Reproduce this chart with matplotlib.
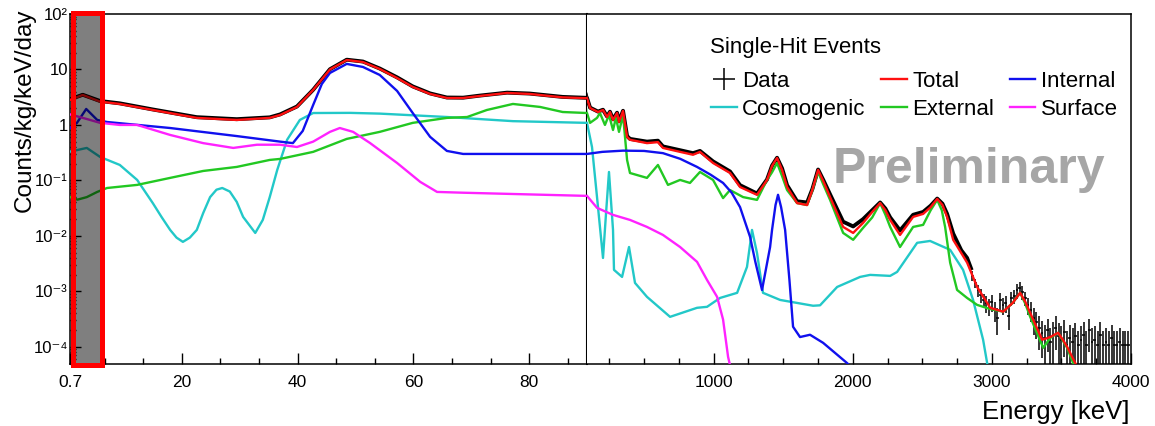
import numpy as np
import matplotlib
matplotlib.use('Agg')
import matplotlib.pyplot as plt
from matplotlib.patches import Rectangle
from matplotlib.ticker import FixedLocator, FixedFormatter, MultipleLocator, LogLocator, NullFormatter
from matplotlib.transforms import blended_transform_factory

plt.rcParams['font.family'] = ['Liberation Sans', 'DejaVu Sans']

# (energy keV, counts/kg/keV/day)
total = [(0.7, 2.82), (2.9, 3.47), (5.9, 2.63), (9.3, 2.39), (15.0, 1.86), (22.6, 1.34), (29.5, 1.23),
         (35.2, 1.34), (37.0, 1.51), (39.9, 2.11), (42.7, 4.28), (45.6, 10.0), (48.5, 14.8), (51.3, 13.6),
         (54.2, 10.2), (57.2, 7.0), (59.9, 4.84), (62.9, 3.62), (65.8, 3.06), (68.6, 3.06), (71.5, 3.33),
         (76.2, 3.77), (80.1, 3.62), (85.8, 3.14), (90, 3.03), (112, 2.02), (169, 1.71), (205, 1.86),
         (234, 1.39), (255, 1.71), (277, 1.23), (306, 1.64), (320, 1.13), (349, 1.79), (378, 0.61),
         (399, 0.54), (521, 0.47), (600, 0.49), (636, 0.385), (759, 0.327), (852, 0.29), (902, 0.327),
         (996, 0.206), (1118, 0.136), (1190, 0.076), (1312, 0.055), (1384, 0.102), (1420, 0.182),
         (1456, 0.254), (1492, 0.155), (1528, 0.076), (1600, 0.039), (1672, 0.036), (1710, 0.068),
         (1751, 0.155), (1790, 0.095), (1837, 0.050), (1931, 0.0145), (2003, 0.0113), (2074, 0.0171),
         (2140, 0.027), (2197, 0.039), (2235, 0.029), (2269, 0.0194), (2340, 0.0104), (2434, 0.022),
         (2506, 0.0249), (2560, 0.033), (2607, 0.0465), (2645, 0.036), (2678, 0.022), (2722, 0.0085),
         (2822, 0.0033), (2894, 0.0012), (2988, 5.05e-4), (3081, 4.3e-4), (3150, 6.2e-4), (3203, 9.4e-4),
         (3240, 6.5e-4), (3275, 4.1e-4), (3361, 1.34e-4), (3420, 1.5e-4), (3476, 1.79e-4), (3510, 1.34e-4),
         (3541, 1.0e-4), (3599, 5.1e-5), (3640, 3.0e-5)]

internal = [(0.7, 0.88), (1.9, 1.09), (3.5, 1.94), (5.4, 1.23), (7.1, 1.13), (18.0, 0.88), (29.5, 0.63),
            (37.0, 0.50), (39.2, 0.47), (40.9, 0.78), (42.7, 2.29), (44.2, 5.48), (45.6, 8.65), (48.5, 12.6),
            (51.3, 11.1), (54.2, 7.96), (57.2, 4.1), (59.9, 1.64), (62.9, 0.61), (65.8, 0.34), (68.6, 0.30),
            (90, 0.30), (200, 0.327), (349, 0.344), (500, 0.34), (636, 0.31), (760, 0.245), (881, 0.175),
            (980, 0.126), (1068, 0.090), (1130, 0.060), (1190, 0.033), (1262, 0.0096), (1300, 0.0034),
            (1348, 0.00106), (1406, 0.0063), (1420, 0.0128), (1445, 0.036), (1463, 0.055), (1485, 0.033),
            (1514, 0.0128), (1545, 0.0016), (1571, 2.3e-4), (1621, 1.5e-4), (1693, 1.65e-4), (1787, 1.18e-4),
            (1959, 5.1e-5), (2000, 4.0e-5)]

surface = [(0.7, 1.55), (3.6, 1.28), (5.9, 1.09), (9.3, 1.0), (12.3, 1.0), (18.0, 0.66), (23.7, 0.47),
           (28.9, 0.385), (33.0, 0.44), (37.0, 0.44), (39.9, 0.40), (42.7, 0.50), (45.6, 0.75), (47.3, 0.88),
           (49.6, 0.75), (52.5, 0.474), (57.2, 0.206), (61.2, 0.094), (64.1, 0.062), (68.6, 0.060),
           (90, 0.0526), (162, 0.032), (277, 0.0239), (399, 0.0194), (521, 0.0145), (636, 0.0104),
           (759, 0.0063), (881, 0.0034), (953, 0.0016), (1025, 7.96e-4), (1068, 3.1e-4), (1104, 6.6e-5),
           (1125, 3.9e-5)]

cosmogenic = [(0.7, 0.33), (3.6, 0.385), (5.9, 0.265), (9.3, 0.19), (12.3, 0.102), (15.0, 0.039),
              (16.5, 0.022), (18.0, 0.0128), (19.1, 0.0093), (20.2, 0.0078), (21.4, 0.0093), (22.6, 0.0128),
              (23.7, 0.0257), (24.9, 0.050), (26.0, 0.068), (27.0, 0.073), (28.3, 0.063), (29.5, 0.041),
              (30.6, 0.022), (32.7, 0.0113), (34.0, 0.0194), (35.2, 0.050), (36.5, 0.155), (38.2, 0.54),
              (40.4, 1.23), (42.7, 1.64), (49.1, 1.65), (54.2, 1.60), (65.8, 1.39), (77.2, 1.17), (90, 1.09),
              (126, 0.40), (162, 0.050), (205, 0.0040), (227, 0.026), (248, 0.142), (277, 0.0128),
              (284, 0.00244), (342, 0.00182), (392, 0.0063), (435, 0.00142), (521, 7.96e-4), (687, 3.47e-4),
              (881, 5.05e-4), (953, 5.26e-4), (1046, 7.6e-4), (1169, 9.4e-4), (1240, 0.00276), (1276, 0.0128),
              (1312, 0.0049), (1355, 9.4e-4), (1478, 7.0e-4), (1715, 5.5e-4), (1765, 5.6e-4), (1888, 0.0012),
              (2053, 0.00182), (2125, 0.00198), (2269, 0.0019), (2319, 0.00224), (2463, 0.0075),
              (2556, 0.0081), (2700, 0.0056), (2793, 0.00244), (2865, 7.0e-4), (2937, 1.34e-4),
              (2966, 5.1e-5), (2985, 3.0e-5)]

external = [(0.7, 0.050), (2.0, 0.045), (3.6, 0.050), (5.4, 0.062), (7.1, 0.073), (12.3, 0.083),
            (18.0, 0.111), (23.7, 0.148), (29.5, 0.175), (35.2, 0.234), (37.0, 0.244), (42.7, 0.327),
            (48.5, 0.56), (54.2, 0.75), (59.9, 1.09), (65.8, 1.34), (69.3, 1.39), (72.7, 1.86), (77.2, 2.39),
            (81.9, 2.11), (85.8, 1.71), (90, 1.64), (112, 1.09), (162, 1.34), (183, 1.64), (219, 1.0),
            (248, 1.51), (277, 0.81), (298, 1.34), (320, 0.75), (349, 1.51), (378, 0.234), (399, 0.136),
            (521, 0.111), (600, 0.19), (672, 0.083), (759, 0.102), (830, 0.090), (902, 0.142), (996, 0.102),
            (1068, 0.048), (1118, 0.067), (1212, 0.050), (1312, 0.0446), (1384, 0.102), (1420, 0.14),
            (1456, 0.206), (1492, 0.12), (1528, 0.067), (1600, 0.039), (1672, 0.036), (1710, 0.067),
            (1751, 0.142), (1790, 0.083), (1837, 0.0446), (1931, 0.0113), (2003, 0.0085), (2074, 0.0139),
            (2140, 0.0215), (2197, 0.039), (2235, 0.024), (2269, 0.0145), (2340, 0.0063), (2434, 0.0145),
            (2506, 0.0158), (2560, 0.029), (2607, 0.0446), (2640, 0.029), (2664, 0.0145), (2700, 0.0033),
            (2750, 0.00106), (2822, 7.6e-4), (2894, 5.7e-4), (2988, 4.8e-4), (3081, 4.3e-4), (3150, 6.2e-4),
            (3203, 9.4e-4), (3240, 6.0e-4), (3275, 3.5e-4), (3369, 9.6e-5), (3420, 1.45e-4), (3476, 1.79e-4),
            (3541, 9.6e-5), (3584, 5.1e-5), (3620, 3.5e-5)]

# measured spectrum: dense part (drawn as a band) and sparse high-energy bins with errors
data_band = [(0.7, 2.9), (2.9, 3.5), (5.9, 2.7), (9.3, 2.45), (15.0, 1.9), (22.6, 1.38), (29.5, 1.27),
             (35.2, 1.37), (37.0, 1.55), (39.9, 2.15), (42.7, 4.3), (45.6, 10.1), (48.5, 15.0), (51.3, 13.9),
             (54.2, 10.4), (57.2, 7.2), (59.9, 4.95), (62.9, 3.7), (65.8, 3.12), (68.6, 3.1), (71.5, 3.38),
             (76.2, 3.82), (80.1, 3.68), (85.8, 3.2), (90, 3.08), (112, 2.05), (169, 1.74), (205, 1.88),
             (234, 1.42), (255, 1.73), (277, 1.26), (306, 1.66), (320, 1.16), (349, 1.8), (378, 0.63),
             (399, 0.56), (521, 0.50), (600, 0.52), (636, 0.41), (759, 0.35), (852, 0.31), (902, 0.34),
             (996, 0.22), (1118, 0.145), (1190, 0.082), (1312, 0.058), (1384, 0.104), (1420, 0.185),
             (1456, 0.256), (1492, 0.165), (1528, 0.082), (1600, 0.042), (1672, 0.040), (1710, 0.070),
             (1751, 0.157), (1790, 0.10), (1837, 0.056), (1931, 0.018), (2003, 0.0148), (2074, 0.020),
             (2140, 0.029), (2197, 0.04), (2235, 0.031), (2269, 0.0215), (2340, 0.0125), (2434, 0.024),
             (2506, 0.027), (2560, 0.035), (2607, 0.047), (2645, 0.038), (2678, 0.025), (2722, 0.011),
             (2780, 0.0055), (2822, 0.0040), (2850, 0.0026)]

data_hi_e = [2860, 2880, 2900, 2920, 2940, 2960, 2980, 3000, 3020, 3040, 3060, 3080, 3100, 3120, 3140,
             3160, 3180, 3200, 3220, 3240, 3260, 3280, 3300, 3320, 3340, 3360, 3380, 3400, 3420, 3440,
             3460, 3480, 3500, 3520, 3540, 3560, 3580, 3600, 3620, 3640, 3660, 3680, 3700, 3720, 3740,
             3760, 3780, 3800, 3820, 3840, 3860, 3880, 3900, 3920, 3940, 3960, 3980]
data_hi_y = [1.90e-3, 1.42e-3, 1.06e-3, 8.65e-4, 7.03e-4, 6.21e-4, 5.48e-4, 6.47e-4, 4.65e-4, 3.33e-4,
             7.03e-4, 5.71e-4, 6.21e-4, 3.62e-4, 7.64e-4, 8.3e-4, 1.06e-3, 1.16e-3, 9.8e-4, 7.64e-4,
             5.71e-4, 4.65e-4, 3.33e-4, 2.82e-4, 2.2e-4, 1.79e-4, 1.45e-4, 2.02e-4, 1.23e-4, 1.64e-4,
             2.2e-4, 1.58e-4, 1.34e-4, 1.86e-4, 1.09e-4, 1.45e-4, 1.23e-4, 1.58e-4, 1.09e-4, 1.34e-4,
             1.64e-4, 1.09e-4, 2.02e-4, 1.23e-4, 1.34e-4, 1.09e-4, 1.64e-4, 1.09e-4, 1.23e-4, 1.09e-4,
             1.45e-4, 1.09e-4, 1.09e-4, 1.23e-4, 1.09e-4, 1.09e-4, 1.09e-4]
data_hi_rel = [0.2, 0.2, 0.25, 0.3, 0.3, 0.35, 0.35, 0.35, 0.4, 0.5,
               0.35, 0.35, 0.35, 0.45, 0.3, 0.3, 0.3, 0.25, 0.3, 0.3,
               0.35, 0.4, 0.5, 0.5, 0.6, 0.65, 0.7, 0.6, 0.8, 0.7,
               0.6, 0.7, 0.75, 0.65, 0.8, 0.7, 0.8, 0.7, 0.8, 0.75,
               0.7, 0.8, 0.6, 0.8, 0.75, 0.8, 0.7, 0.8, 0.8, 0.8,
               0.7, 0.8, 0.8, 0.8, 0.8, 0.8, 0.8]

y_ticks = [1e-4, 1e-3, 1e-2, 1e-1, 1, 10, 100]
y_tick_labels = ['10\u207b\u2074', '10\u207b\u00b3', '10\u207b\u00b2', '10\u207b\u00b9', '1', '10', '10\u00b2']

series = [
    ('Cosmogenic', cosmogenic, '#22c8c8'),
    ('External', external, '#22c822'),
    ('Internal', internal, '#1010ee'),
    ('Surface', surface, '#ff22ff'),
    ('Total', total, '#ff1010'),
]

fig = plt.figure(figsize=(11.55, 4.26), dpi=100)
ax_l = fig.add_axes([70 / 1155, 62 / 426, 517 / 1155, 350 / 426])
ax_r = fig.add_axes([587 / 1155, 62 / 426, 544 / 1155, 350 / 426], sharey=ax_l)

lines = {}
for ax in (ax_l, ax_r):
    be, by = np.array(data_band).T
    ax.plot(be, by, color='black', lw=2.8, zorder=2, solid_joinstyle='round')
    for name, pts, col in series:
        e, y = np.array(pts).T
        z = 4 if name == 'Total' else 3
        ln, = ax.plot(e, y, color=col, lw=1.7, zorder=z)
        lines[name] = ln

hi_y = np.array(data_hi_y)
eb = ax_r.errorbar(data_hi_e, hi_y, xerr=10, yerr=hi_y * np.array(data_hi_rel), fmt='none',
                   ecolor='black', elinewidth=1.1, capsize=0, zorder=2)

ax_l.set_yscale('log')
ax_l.set_ylim(4.9e-5, 100)
ax_l.set_xlim(0.7, 90)
ax_r.set_xlim(90, 4000)

ax_l.yaxis.set_major_locator(FixedLocator(y_ticks))
ax_l.yaxis.set_major_formatter(FixedFormatter(y_tick_labels))
ax_l.yaxis.set_minor_locator(LogLocator(base=10, subs=np.arange(2, 10)))
ax_l.yaxis.set_minor_formatter(NullFormatter())

ax_l.xaxis.set_major_locator(FixedLocator([0.7, 20, 40, 60, 80]))
ax_l.xaxis.set_major_formatter(FixedFormatter(['0.7', '20', '40', '60', '80']))
ax_l.xaxis.set_minor_locator(MultipleLocator(20 / 3))
ax_r.xaxis.set_major_locator(FixedLocator([1000, 2000, 3000, 4000]))
ax_r.xaxis.set_major_formatter(FixedFormatter(['1000', '2000', '3000', '4000']))
ax_r.xaxis.set_minor_locator(MultipleLocator(250))

for ax in (ax_l, ax_r):
    ax.tick_params(which='both', direction='in', top=False, right=False, width=1, labelsize=12.5)
    ax.tick_params(which='major', length=8)
    ax.tick_params(which='minor', length=4)
    ax.tick_params(axis='x', pad=8)
    for s in ax.spines.values():
        s.set_linewidth(1.1)
ax_l.spines['right'].set_linewidth(1.5)
ax_l.tick_params(axis='y', pad=1.5, labelsize=12)
ax_r.spines['left'].set_visible(False)
ax_r.tick_params(axis='y', which='both', left=False, labelleft=False)

# highlighted low-energy region
tr = blended_transform_factory(ax_l.transData, ax_l.transAxes)
ax_l.add_patch(Rectangle((1.2, -0.003), 5.1, 1.006, transform=tr, facecolor=(0, 0, 0, 0.5),
                         edgecolor='red', lw=3.6, clip_on=False, zorder=6))

fig.text(25 / 1155, 1 - 8 / 426, 'Counts/kg/keV/day', rotation=90, ha='center', va='top', fontsize=17.5)
fig.text(1130 / 1155, 1 - 412 / 426, 'Energy [keV]', ha='right', va='center', fontsize=18.5)
fig.text(833 / 1155, 1 - 183 / 426, 'Preliminary', ha='left', va='baseline', fontsize=36,
         fontweight='bold', color='#a6a6a6')
fig.text(710 / 1155, 1 - 48 / 426, 'Single-Hit Events', ha='left', va='center', fontsize=16)

handles = [eb, lines['Cosmogenic'], lines['Total'], lines['External'], lines['Internal'], lines['Surface']]
labels = ['Data', 'Cosmogenic', 'Total', 'External', 'Internal', 'Surface']
ax_r.legend(handles, labels, ncol=3, loc='upper left',
            bbox_to_anchor=(700 / 1155, 1 - 60 / 426), bbox_transform=fig.transFigure,
            frameon=False, fontsize=16, handlelength=1.15, handletextpad=0.25,
            columnspacing=0.7, labelspacing=0.3, borderpad=0)

fig.savefig('out.png', dpi=100)
